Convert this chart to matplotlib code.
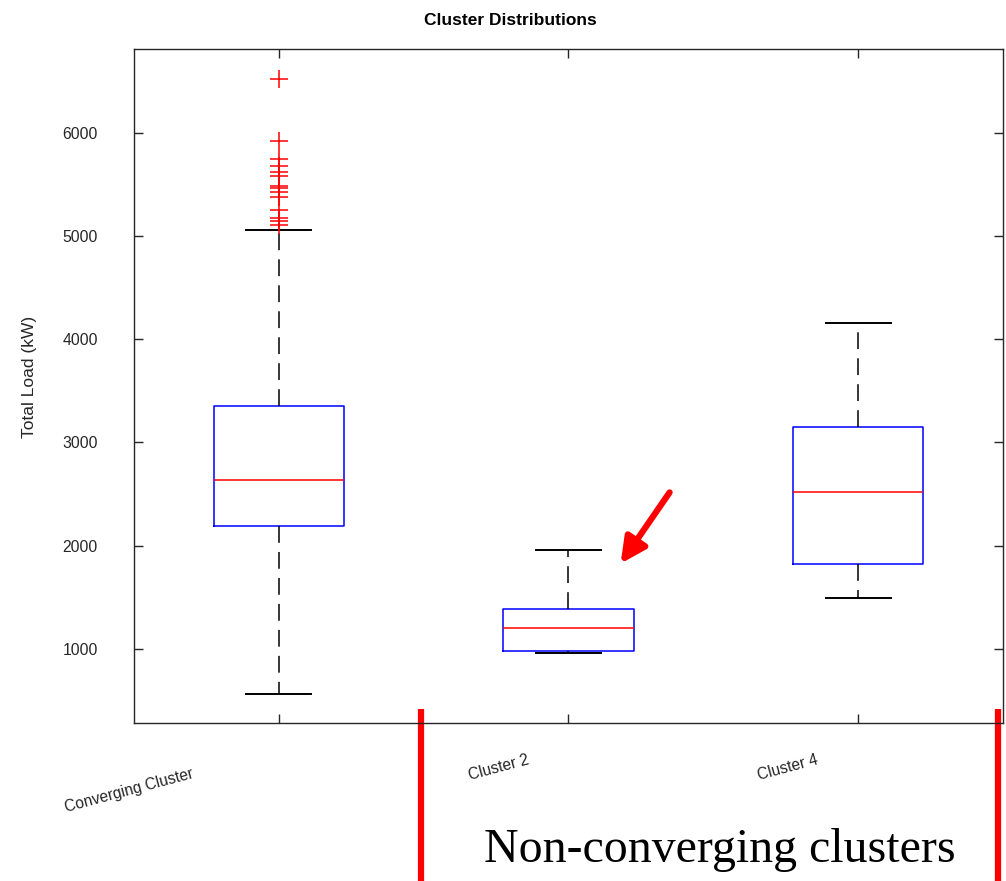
import matplotlib
matplotlib.use('Agg')
import matplotlib.pyplot as plt
import matplotlib.transforms as mtransforms

plt.rcParams['font.family'] = ['Liberation Sans', 'DejaVu Sans']

# box statistics per cluster (kW)
labels = ['Converging Cluster', 'Cluster 2', 'Cluster 4']
q1 = [2194, 974, 1822]
medians = [2631, 1201, 2524]
q3 = [3350, 1385, 3149]
whislo = [563, 961, 1495]
whishi = [5065, 1961, 4158]
fliers = [
    [6524, 5925, 5748, 5680, 5621, 5583, 5485, 5466, 5427, 5379,
     5252, 5175, 5146, 5107],
    [],
    [],
]
yticks = [1000, 2000, 3000, 4000, 5000, 6000]

text_color = '#262626'

fig = plt.figure(figsize=(10.06, 8.81), dpi=100)
ax = fig.add_axes([0.1332, 0.1788, 0.8638, 0.7656])

stats = []
for i in range(len(labels)):
    stats.append(dict(label=labels[i], q1=q1[i], med=medians[i], q3=q3[i],
                      whislo=whislo[i], whishi=whishi[i], fliers=fliers[i]))

positions = [1, 2, 3]
ax.bxp(stats, positions=positions, widths=0.45,
       boxprops=dict(color='blue', linewidth=1.1),
       medianprops=dict(color='red', linewidth=1.1),
       whiskerprops=dict(color='black', linewidth=1.1, linestyle=(0, (11, 6))),
       capprops=dict(color='black', linewidth=1.4),
       flierprops=dict(marker='+', markeredgecolor='red', markersize=12.5,
                       markeredgewidth=1.1, linestyle='none'))

ax.set_xlim(0.5, 3.5)
ax.set_ylim(273, 6818)
ax.set_yticks(yticks)
ax.set_yticklabels([str(v) for v in yticks])
ax.set_xticks(positions)
ax.set_xticklabels([])

for side in ax.spines.values():
    side.set_color(text_color)
    side.set_linewidth(1.0)
ax.tick_params(axis='both', direction='in', length=6.5, width=1.0,
               colors=text_color, top=True, right=True)
ax.tick_params(axis='y', labelsize=11.3, pad=26)

# slanted category names under the axis
offsets = [(-150, -67), (-70, -44), (-70, -44)]
for pos, name, (dx, dy) in zip(positions, labels, offsets):
    ax.annotate(name, xy=(pos, 0), xycoords=ax.get_xaxis_transform(),
                xytext=(dx, dy), textcoords='offset pixels',
                rotation=15, rotation_mode='anchor', ha='center', va='center',
                fontsize=11.2, color=text_color, annotation_clip=False)

ax.set_ylabel('Total Load (kW)', fontsize=12.5, color=text_color)
ax.yaxis.set_label_coords(-0.112, 0.514)
ax.set_title('Cluster Distributions', fontsize=12.5, fontweight='bold',
             x=0.433, pad=17, color='black')

# highlight the small cluster
ax.annotate('', xy=(2.18, 1825), xytext=(2.349, 2515),
            arrowprops=dict(arrowstyle='-|>', color='red', lw=4.5,
                            mutation_scale=38, shrinkA=0, shrinkB=0))

# bracket marking the non-converging group
trans = mtransforms.blended_transform_factory(ax.transData, ax.transAxes)
for xb in [1.49, 3.482]:
    ax.plot([xb, xb], [0.022, -0.26], color='red', lw=4.5,
            transform=trans, clip_on=False, solid_capstyle='butt')
fig.text(720 / 1006, 19 / 881, 'Non-converging clusters',
         fontfamily='Liberation Serif', fontsize=34.5, ha='center',
         va='baseline', color='black')

fig.savefig('out.png', dpi=100)
